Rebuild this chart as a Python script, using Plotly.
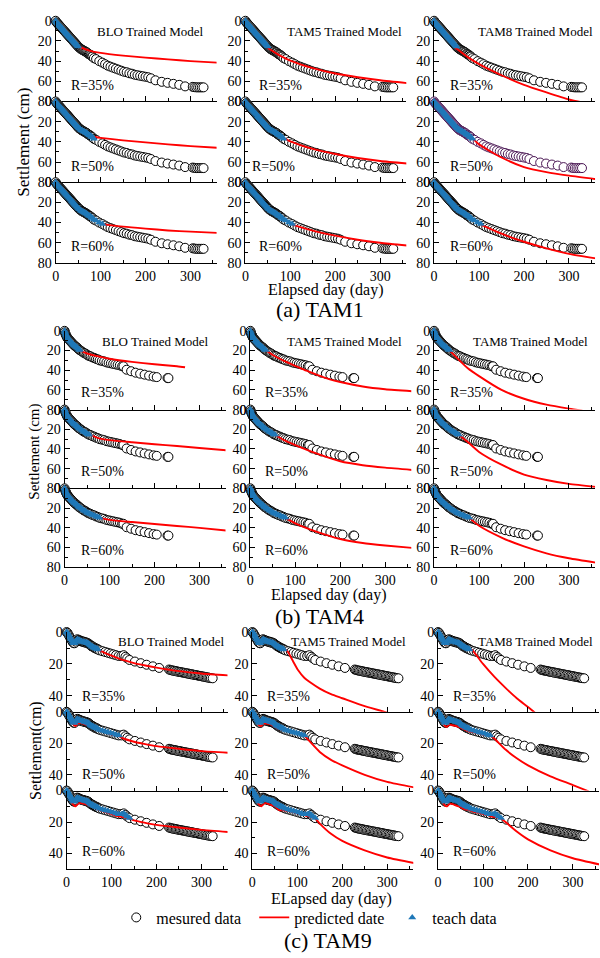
import plotly.graph_objects as go

FONT = "Liberation Serif, Times New Roman, Times, serif"
W, H = 600, 958

# ---------------- data ----------------
# TAM1 measured settlement (day, cm)
tam1_day = [0, 2, 4, 6, 8, 10, 12, 14, 16, 18, 20, 22, 24, 26, 28, 30, 32, 34, 36, 38, 40, 42, 44, 46, 48, 50,
            52, 54, 56, 58, 60, 62, 64, 66, 68, 70, 72, 74, 76, 78, 80, 82, 85,
            90, 97, 104, 110, 116, 122, 128, 134, 140, 146, 152, 158, 164, 170, 176, 182, 188, 194, 200, 206, 212,
            222, 236, 249, 262, 275, 288, 305, 309, 313, 317, 321, 325, 329]
tam1_set = [0, 1.5, 2.5, 3.5, 4.5, 5.5, 6.5, 7.5, 8.5, 9.5, 10.5, 11.5, 12.5, 13.5, 14.5, 15.5, 16.5, 17.5, 18.5,
            19.5, 20.5, 21.5, 22.5, 23.5, 24.5, 25.5,
            26.5, 27, 28, 28.5, 29, 29.5, 30, 30.5, 31, 31.5, 32.5, 33, 33.5, 34, 35, 35.5, 37,
            38, 40, 41.5, 43, 44.5, 45.5, 46.5, 47.5, 48.5, 49.5, 50.5, 51, 52, 52.5, 53.5, 54, 54.5, 55, 55.5, 56, 57,
            59, 60.5, 61.5, 62.5, 63.5, 65, 65.5, 65.8, 66, 66, 66, 66, 66]
tam1_teach_end = [50, 85, 104]   # last teach day for R=35%, 50%, 60%

# TAM4 measured
tam4_day = [0, 1, 2, 3, 4, 5, 6, 7, 8, 9, 10, 12, 14, 16, 18, 20, 22, 24, 26, 28, 30, 32, 34,
            37, 40, 43, 46, 49, 52, 55, 58, 62, 66, 70, 74, 78, 83, 88, 93, 98, 103, 108, 113, 118, 123, 128, 131,
            138, 148, 158, 168, 178, 188, 198, 205, 229, 231]
tam4_set = [0, 1.5, 3, 4, 5, 6, 7, 7.5, 8, 8.5, 9, 10, 11, 12, 13, 14, 15, 15.5, 16.5, 17, 18, 19, 19.5,
            20.5, 21.5, 22.5, 23, 24, 25, 25.5, 26, 27, 27.5, 28.5, 29, 30, 30.5, 31, 32, 32.5, 33, 33.5, 34, 34.5,
            35, 36, 36, 39.5, 41, 42.5, 43.5, 44.5, 45.5, 46.5, 47, 48, 48]
tam4_teach_end = [34, 55, 78]

# TAM9 measured
tam9_day = [0, 2, 4, 6, 8, 10, 12, 14, 16, 18, 20, 22, 24, 26, 28, 30, 32, 34, 36, 38, 40, 42, 44, 46, 48, 50,
            52, 54, 56, 58, 60, 62, 64, 66, 68, 70,
            74, 80, 86, 92, 98, 104, 110, 116, 122, 127, 131, 135, 140, 152, 165, 178, 192, 206,
            228, 231, 234, 237, 240, 243, 246, 249, 252, 255, 258, 261, 264, 267, 270, 273, 276, 279, 282, 285,
            288, 291, 294, 297, 300, 303, 306, 309, 312, 315, 318, 321, 325]
tam9_set = [0, 0.5, 1.5, 2.5, 3.5, 4.5, 5.5, 6.5, 7, 7, 6, 5, 4.5, 5, 5, 5.5, 5.5, 6, 6, 6, 6.5, 6.5, 6.5, 7, 7,
            7.5, 8, 8.5, 9, 9, 9.5, 10, 10, 10.5, 10.5, 11,
            11.5, 12, 12.5, 13, 13.5, 14, 14.5, 15, 15, 14.5, 15.5, 16.5, 17.5, 18.5, 19.5, 20.5, 21.5, 22.5,
            23.5, 23.8, 24, 24.2, 24.3, 24.5, 24.7, 24.9, 25, 25.2, 25.4, 25.5, 25.7, 25.9, 26, 26.2, 26.4,
            26.5, 26.7, 26.9, 27, 27.2, 27.4, 27.5, 27.7, 27.9, 28, 28.2, 28.4, 28.5, 28.7, 28.9, 29]
tam9_teach_end = [70, 116, 140]

# predicted curves [day, settlement]
t1_blo_35 = [[50, 25.5], [75, 29.5], [100, 31.8], [150, 34.5], [200, 36.5], [250, 38.3], [300, 40], [360, 41.5]]
t1_blo_50 = [[85, 35], [100, 36], [150, 38.5], [200, 40.5], [250, 42.5], [300, 44.2], [360, 45.8]]
t1_blo_60 = [[104, 41.5], [150, 44], [200, 46], [250, 47.8], [300, 49], [360, 50.2]]
t1_t5_35 = [[50, 27], [75, 34], [100, 39.5], [150, 47], [200, 52.3], [250, 56], [300, 59], [360, 61.8]]
t1_t5_50 = [[85, 36], [100, 39.5], [150, 47], [200, 52], [250, 56], [300, 59], [360, 61.5]]
t1_t5_60 = [[104, 42], [150, 48], [200, 53], [250, 57], [300, 60], [360, 62.8]]
t1_t8_35 = [[45, 26], [75, 36], [100, 43], [150, 54], [200, 63.5], [250, 71], [300, 78], [330, 81]]
t1_t8_50 = [[85, 36], [100, 42.5], [150, 55.5], [200, 65], [250, 70], [300, 73.5], [360, 77]]
t1_t8_60 = [[104, 42], [150, 51], [200, 59], [250, 65.5], [300, 71], [360, 75.5]]

t4_blo_35 = [[34, 19.5], [50, 23], [75, 26], [100, 28.3], [150, 31.5], [200, 34], [250, 36], [268, 37]]
t4_blo_50 = [[55, 25.5], [75, 29], [100, 31], [150, 33.2], [200, 35.2], [250, 37], [300, 39], [360, 41.3]]
t4_blo_60 = [[78, 30], [100, 32], [150, 34.2], [200, 36.2], [250, 38.2], [300, 40.2], [360, 42.8]]
t4_t5_35 = [[34, 19.5], [50, 24.5], [75, 30.5], [100, 35.5], [125, 40.5], [150, 45], [175, 49], [200, 52],
            [250, 56.5], [300, 59.3], [360, 61.3]]
t4_t5_50 = [[55, 25.5], [75, 31], [100, 36], [150, 45], [200, 52.5], [250, 56.5], [300, 59], [360, 61.3]]
t4_t5_60 = [[78, 30], [100, 35.5], [150, 44.5], [200, 51.5], [250, 55.5], [300, 58], [360, 60.5]]
t4_t8_35 = [[34, 19.5], [50, 27], [75, 38], [100, 46], [150, 60], [200, 69], [250, 75], [300, 79], [330, 81]]
t4_t8_50 = [[55, 25.5], [75, 33], [100, 43], [150, 56], [200, 66], [250, 71.5], [300, 75.5], [360, 78.5]]
t4_t8_60 = [[78, 30], [100, 38], [150, 50], [200, 59], [250, 66], [300, 71], [360, 75.5]]

t9_blo_35 = [[0, 0], [5, 2.5], [10, 5], [15, 6.5], [20, 6.5], [25, 5], [30, 5.5], [40, 6.5], [50, 7.5], [60, 9.5],
             [70, 11], [85, 13], [100, 14.8], [125, 17.5], [150, 19.5], [175, 21], [200, 22.3], [250, 24.5],
             [300, 26], [360, 27.2]]
t9_blo_50 = [[0, 0], [5, 3], [10, 6], [15, 8], [20, 9], [25, 7.5], [30, 7], [40, 8], [50, 9], [60, 10.5],
             [70, 11.5], [80, 12.5], [90, 13.5], [100, 14.5], [116, 15.5], [125, 16.8], [150, 19], [175, 20.5],
             [200, 21.8], [250, 23.5], [300, 25], [360, 26]]
t9_blo_60 = [[0, 0], [5, 3.5], [10, 7], [15, 9], [20, 10], [25, 8.5], [30, 8], [40, 8.5], [50, 9.5], [60, 10.5],
             [70, 12], [80, 13], [90, 14], [100, 15], [110, 16], [120, 16.5], [140, 17.8], [150, 19], [175, 20.5],
             [200, 21.8], [250, 23.5], [300, 25], [360, 26.3]]
t9_t5_35 = [[0, 0], [5, 2], [10, 4], [15, 6.5], [20, 6.5], [25, 5], [30, 5], [40, 6], [50, 7], [60, 9.5],
            [70, 10.5], [78, 12], [90, 18], [102, 24], [115, 28.5], [131, 32], [150, 35.5], [175, 39], [200, 41.5],
            [250, 46.5], [300, 50.5]]
t9_t5_50 = [[0, 0], [5, 3], [10, 6], [15, 8.5], [20, 9], [25, 7.5], [30, 7.5], [40, 8], [50, 9.5], [60, 11],
            [70, 11.5], [80, 12], [90, 12.5], [100, 13.5], [113, 14.5], [125, 18], [150, 25.5], [175, 30.5],
            [200, 34], [250, 40], [300, 44.5], [360, 48]]
t9_t5_60 = [[0, 0], [5, 3], [10, 6.5], [15, 9], [20, 10], [25, 8.5], [30, 8], [40, 9], [50, 10], [60, 12.5],
            [70, 12.5], [80, 13], [90, 13.5], [100, 14.5], [110, 15], [120, 16], [140, 17.8], [150, 21],
            [175, 27.5], [200, 32], [250, 38], [300, 42.5], [360, 46]]
t9_t8_35 = [[0, 0], [5, 2.5], [10, 5], [15, 7.5], [20, 7.5], [25, 6], [30, 5.5], [40, 6.5], [50, 7.5], [60, 9.5],
            [70, 10.5], [76, 11.3], [100, 20], [125, 28], [150, 35], [175, 41.5], [200, 47], [215, 50.5]]
t9_t8_50 = [[0, 0], [5, 3], [10, 6], [15, 9], [20, 9.5], [25, 8], [30, 8.5], [40, 9], [50, 10], [60, 11.5],
            [70, 12.5], [80, 13], [90, 13.5], [100, 14.5], [116, 15], [125, 17], [150, 24], [175, 29.5],
            [200, 34], [250, 41], [300, 46.5], [335, 50.5]]
t9_t8_60 = [[0, 0], [5, 3.5], [10, 7], [15, 9.5], [20, 10], [25, 8.5], [30, 8.5], [40, 9.5], [50, 10.5], [60, 12],
            [70, 12.5], [80, 13.5], [90, 14], [100, 15], [110, 15.5], [120, 16.5], [140, 17.8], [150, 20],
            [175, 26], [200, 31], [250, 38], [300, 43], [360, 47]]

model_names = ["BLO Trained Model", "TAM5 Trained Model", "TAM8 Trained Model"]
ratio_labels = ["R=35%", "R=50%", "R=60%"]
x_ticks = [0, 100, 200, 300]

# ---------------- layout geometry (pixels) ----------------
groups = [
    dict(day=tam1_day, val=tam1_set, cut=tam1_teach_end,
         pred=[[t1_blo_35, t1_t5_35, t1_t8_35], [t1_blo_50, t1_t5_50, t1_t8_50], [t1_blo_60, t1_t5_60, t1_t8_60]],
         cols=[(52, 214), (243, 405), (433, 595)], rows=[(14, 96), (96, 178), (178, 260)],
         ymax=80, yticks=[0, 20, 40, 60, 80],
         title_y=25, title_right=[203, 403, 595], r_off=[[13, 12, 14], [13, 5, 14], [13, 12, 14]], r_dy=[66, 66, 65],
         xlab="Elapsed day (day)", xlab_xy=(324, 287), cap="(a) TAM1", cap_xy=(318, 307),
         ylab="Settlement (cm)", ylab_xy=(20, 137), ylab_size=17),
    dict(day=tam4_day, val=tam4_set, cut=tam4_teach_end,
         pred=[[t4_blo_35, t4_t5_35, t4_t8_35], [t4_blo_50, t4_t5_50, t4_t8_50], [t4_blo_60, t4_t5_60, t4_t8_60]],
         cols=[(61, 223), (248, 410), (433, 595)], rows=[(329, 409), (409, 489), (489, 569)],
         ymax=80, yticks=[0, 20, 40, 60, 80],
         title_y=340, title_right=[208, 403, 590], r_off=[[14, 13, 14]] * 3, r_dy=[63, 63, 63],
         xlab="Elapsed day (day)", xlab_xy=(327, 597), cap="(b) TAM4", cap_xy=(318, 619),
         ylab="Settlement (cm)", ylab_xy=(31, 452), ylab_size=15),
    dict(day=tam9_day, val=tam9_set, cut=tam9_teach_end,
         pred=[[t9_blo_35, t9_t5_35, t9_t8_35], [t9_blo_50, t9_t5_50, t9_t8_50], [t9_blo_60, t9_t5_60, t9_t8_60]],
         cols=[(63, 225), (250, 412), (437, 599)], rows=[(635, 716), (716, 796), (796, 876)],
         ymax=50, yticks=[0, 20, 40],
         title_y=645, title_right=[224, 407, 595], r_off=[[14, 13, 13]] * 3, r_dy=[65, 64, 62],
         xlab="ELapsed day (day)", xlab_xy=(330, 906), cap="(c) TAM9", cap_xy=(326, 948),
         ylab="Settlement(cm)", ylab_xy=(32, 755), ylab_size=16),
]

XMAX = 358
BLUE = "#1f78b8"
PURPLE = "#4a1654"


def fx(px):
    return px / W


def fy(py):
    return 1 - py / H


fig = go.Figure()
layout = {}
annotations = []
n = 0
first = True
for gi, g in enumerate(groups):
    for r in range(3):
        for c in range(3):
            n += 1
            xs = "x" if n == 1 else f"x{n}"
            ys = "y" if n == 1 else f"y{n}"
            x0, x1 = g["cols"][c]
            y0, y1 = g["rows"][r]
            circ_col = PURPLE if (gi == 0 and r == 1 and c == 2) else "black"
            # measured
            fig.add_trace(go.Scatter(
                x=g["day"], y=g["val"], mode="markers", xaxis=xs, yaxis=ys, cliponaxis=False,
                marker=dict(symbol="circle", size=9, color="white", line=dict(color=circ_col, width=1)),
                name="mesured data", legendgroup="m", showlegend=first))
            # predicted
            pd_ = g["pred"][r][c]
            fig.add_trace(go.Scatter(
                x=[p[0] for p in pd_], y=[p[1] for p in pd_], mode="lines", xaxis=xs, yaxis=ys,
                line=dict(color="#ff0000", width=1.9, shape="spline", smoothing=0.6),
                name="predicted date", legendgroup="p", showlegend=first))
            # teach data
            cut = g["cut"][r]
            td = [d for d in g["day"] if d <= cut]
            tv = [v for d, v in zip(g["day"], g["val"]) if d <= cut]
            fig.add_trace(go.Scatter(
                x=td, y=tv, mode="markers", xaxis=xs, yaxis=ys, cliponaxis=False,
                marker=dict(symbol="triangle-up", size=7, color=BLUE, line=dict(width=0)),
                name="teach data", legendgroup="t", showlegend=first))
            first = False

            xa = "xaxis" if n == 1 else f"xaxis{n}"
            ya = "yaxis" if n == 1 else f"yaxis{n}"
            layout[xa] = dict(domain=[fx(x0), fx(x1)], range=[0, XMAX], anchor=ys,
                              tickvals=x_ticks, ticks="inside", ticklen=5, tickwidth=1, tickcolor="black",
                              showticklabels=(r == 2), showline=True, linecolor="black", linewidth=1,
                              showgrid=False, zeroline=False, mirror=False,
                              minor=dict(dtick=50, tick0=0, ticks="inside", ticklen=3, tickcolor="black",
                                         showgrid=False),
                              tickfont=dict(family=FONT, size=14, color="black"))
            layout[ya] = dict(domain=[fy(y1), fy(y0)], range=[g["ymax"], 0], anchor=xs,
                              tickvals=g["yticks"], ticks="inside", ticklen=5, tickwidth=1, tickcolor="black",
                              showline=True, linecolor="black", linewidth=1, showgrid=False, zeroline=False,
                              minor=dict(dtick=10, tick0=0, ticks="inside", ticklen=3, tickcolor="black",
                                         showgrid=False),
                              tickfont=dict(family=FONT, size=14, color="black"))
            # R label
            annotations.append(dict(text=ratio_labels[r], xref="paper", yref="paper",
                                    x=fx(x0 + g["r_off"][r][c]), y=fy(y0 + g["r_dy"][r]),
                                    xanchor="left", yanchor="middle", showarrow=False,
                                    font=dict(family=FONT, size=14, color="black")))
            if r == 0:
                annotations.append(dict(text=model_names[c], xref="paper", yref="paper",
                                        x=fx(g["title_right"][c]), y=fy(g["title_y"]),
                                        xanchor="right", yanchor="middle", showarrow=False,
                                        font=dict(family=FONT, size=13, color="black")))
    annotations.append(dict(text=g["xlab"], xref="paper", yref="paper",
                            x=fx(g["xlab_xy"][0]), y=fy(g["xlab_xy"][1]), xanchor="center", yanchor="middle",
                            showarrow=False, font=dict(family=FONT, size=16, color="black")))
    annotations.append(dict(text=g["cap"], xref="paper", yref="paper",
                            x=fx(g["cap_xy"][0]), y=fy(g["cap_xy"][1]), xanchor="center", yanchor="middle",
                            showarrow=False, font=dict(family=FONT, size=22, color="black")))
    annotations.append(dict(text=g["ylab"], xref="paper", yref="paper", textangle=-90,
                            x=fx(g["ylab_xy"][0]), y=fy(g["ylab_xy"][1]), xanchor="center", yanchor="middle",
                            showarrow=False, font=dict(family=FONT, size=g["ylab_size"], color="black")))

fig.update_layout(
    width=W, height=H, margin=dict(l=0, r=0, t=0, b=0),
    paper_bgcolor="white", plot_bgcolor="white",
    font=dict(family=FONT, size=14, color="black"),
    annotations=annotations,
    showlegend=True,
    legend=dict(orientation="h", x=fx(113), y=fy(925), xanchor="left", yanchor="middle",
                font=dict(family=FONT, size=16, color="black"), bgcolor="rgba(0,0,0,0)",
                itemclick=False, tracegroupgap=0, entrywidth=93, entrywidthmode="pixels"),
    **layout,
)

fig.write_html("out.html", config={"displayModeBar": False},
               post_script="document.body.style.margin='0px';document.body.style.overflow='hidden';")
